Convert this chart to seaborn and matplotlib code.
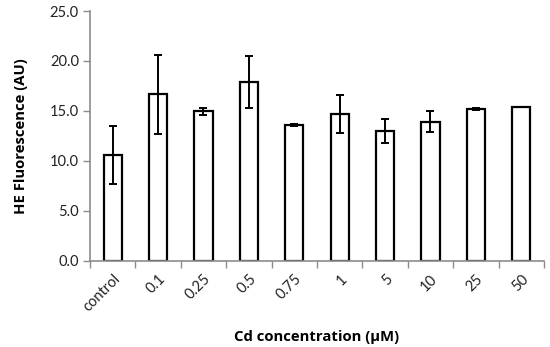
import matplotlib
matplotlib.use("Agg")
import matplotlib.pyplot as plt
import seaborn as sns
import pandas as pd
import numpy as np

categories = ["control", "0.1", "0.25", "0.5", "0.75", "1", "5", "10", "25", "50"]
values = [10.6, 16.65, 14.95, 17.9, 13.6, 14.7, 12.95, 13.9, 15.2, 15.4]
errors = [2.9, 3.95, 0.35, 2.6, 0.12, 1.9, 1.2, 1.05, 0.06, 0.04]
yticks = [0.0, 5.0, 10.0, 15.0, 20.0, 25.0]

sns.set_theme(style="white")
plt.rcParams['font.family'] = ['Lato', 'DejaVu Sans']

df = pd.DataFrame({"cat": categories, "val": values})

fig = plt.figure(figsize=(5.5, 3.47), dpi=100)
ax = fig.add_axes([0.1636, 0.2487, 0.8254, 0.7195])

sns.barplot(data=df, x="cat", y="val", ax=ax, color="white", edgecolor="black",
            linewidth=1.6, width=0.4, errorbar=None, saturation=1)
ax.errorbar(np.arange(len(categories)), values, yerr=errors, fmt="none",
            ecolor="black", elinewidth=1.4, capsize=3, capthick=1.4)

ax.set_ylim(0, 25)
ax.set_xlim(-0.5, len(categories) - 0.5)
ax.set_yticks(yticks)
ax.set_yticklabels([f"{v:.1f}" for v in yticks], fontsize=10.5, color="#222222")

ax.set_xticks(np.arange(len(categories) + 1) - 0.5)
ax.set_xticklabels([])
ax.set_xticks(np.arange(len(categories)), minor=True)
ax.set_xticklabels(categories, minor=True, rotation=45, ha="right",
                   rotation_mode="anchor", fontsize=10.5, color="#222222")
ax.tick_params(axis="x", which="minor", length=0, pad=8)
ax.tick_params(axis="x", which="major", length=5, width=1, color="#8c8c8c", direction="out", bottom=True)
ax.tick_params(axis="y", length=5, width=1, color="#8c8c8c", direction="out", left=True, pad=3)

for s in ["top", "right"]:
    ax.spines[s].set_visible(False)
for s in ["left", "bottom"]:
    ax.spines[s].set_color("#8c8c8c")
    ax.spines[s].set_linewidth(1.2)

lab_font = dict(family=["Open Sans", "DejaVu Sans"], fontsize=10.7, fontweight="bold", color="black")
ax.set_xlabel("Cd concentration (\u03bcM)", labelpad=11, **lab_font)
ax.set_ylabel("HE Fluorescence (AU)", labelpad=16, **lab_font)

fig.savefig("out.png", dpi=100)
